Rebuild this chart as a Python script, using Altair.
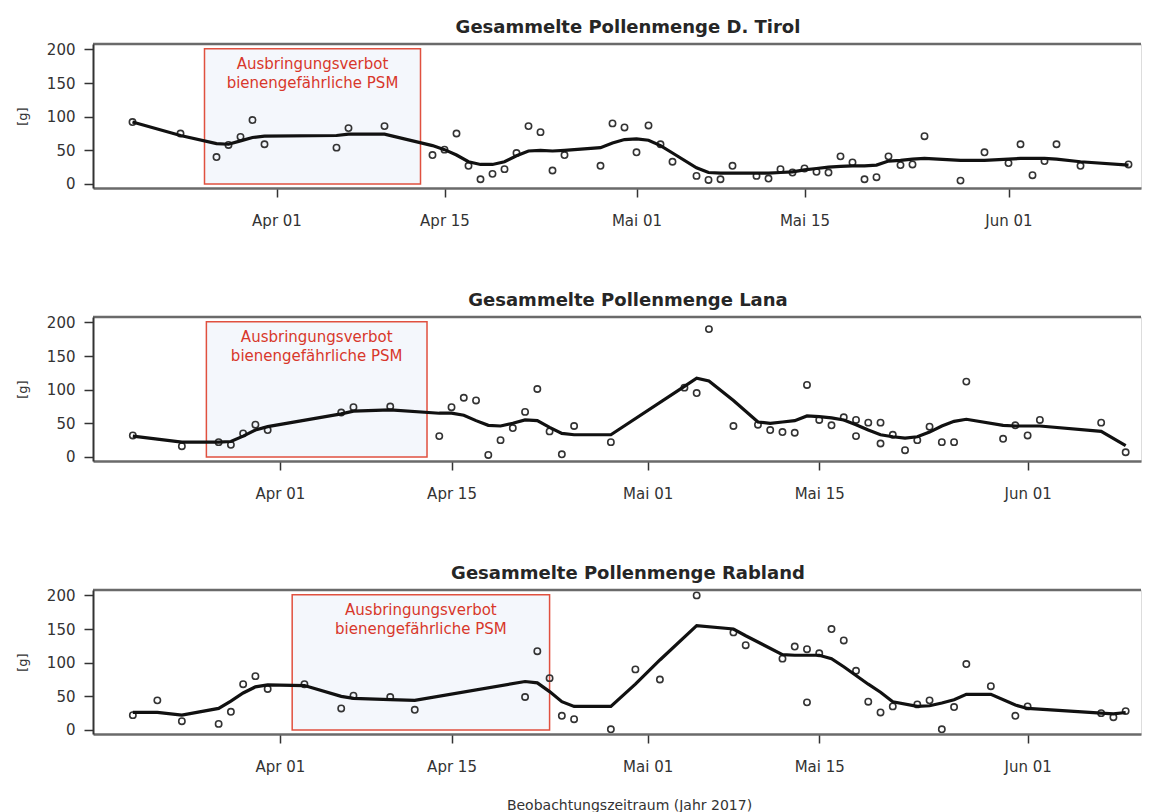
import altair as alt
import pandas as pd

YEAR = 2017

# ---------- Panel 1: D. Tirol ----------
tirol_pt_dates = ["03-20","03-24","03-27","03-28","03-29","03-30","03-31","04-06","04-07","04-10",
                  "04-14","04-15","04-16","04-17","04-18","04-19","04-20","04-21","04-22","04-23",
                  "04-24","04-25","04-28","04-29","04-30","05-01","05-02","05-03","05-04","05-06",
                  "05-07","05-08","05-09","05-11","05-12","05-13","05-14","05-15","05-16","05-17",
                  "05-18","05-19","05-20","05-21","05-22","05-23","05-24","05-25","05-28","05-30",
                  "06-01","06-02","06-03","06-04","06-05","06-07","06-11"]
tirol_pt_vals = [92,75,40,58,70,95,59,54,83,86,
                 43,51,75,27,7,15,22,46,86,77,
                 20,43,27,90,84,47,87,59,33,12,
                 6,7,27,12,8,22,17,23,18,17,
                 41,32,7,10,41,28,29,71,5,47,
                 31,59,13,34,59,27,29]
tirol_ln_dates = ["03-20","03-24","03-27","03-28","03-29","03-30","03-31","04-06","04-07","04-10",
                  "04-14","04-15","04-16","04-17","04-18","04-19","04-20","04-21","04-22","04-23",
                  "04-24","04-25","04-28","04-29","04-30","05-01","05-02","05-03","05-04","05-06",
                  "05-07","05-08","05-09","05-11","05-12","05-13","05-14","05-15","05-16","05-17",
                  "05-18","05-19","05-20","05-21","05-22","05-23","05-24","05-25","05-28","05-30",
                  "06-01","06-02","06-03","06-04","06-05","06-07","06-11"]
tirol_ln_vals = [92,72,60,59,64,69,71,72,74,74,
                 57,51,43,33,29,29,33,42,49,50,
                 49,50,54,61,66,67,65,57,46,24,
                 17,16,16,16,16,17,18,21,23,25,
                 26,27,27,28,34,35,37,38,35,35,
                 37,38,38,38,37,33,28]

# ---------- Panel 2: Lana ----------
lana_pt_dates = ["03-20","03-24","03-27","03-28","03-29","03-30","03-31","04-06","04-07","04-10",
                 "04-14","04-15","04-16","04-17","04-18","04-19","04-20","04-21","04-22","04-23",
                 "04-24","04-25","04-28","05-04","05-05","05-06","05-08","05-10","05-11","05-12",
                 "05-13","05-14","05-15","05-16","05-17","05-18","05-18","05-19","05-20","05-20",
                 "05-21","05-22","05-23","05-24","05-25","05-26","05-27","05-30","05-31","06-01",
                 "06-02","06-07","06-09"]
lana_pt_vals = [32,16,22,18,35,48,40,66,74,75,
                31,74,88,84,3,25,43,67,101,38,
                4,46,22,103,95,190,46,48,40,37,
                36,107,55,47,59,55,31,51,51,20,
                33,10,25,45,22,22,112,27,47,32,
                55,51,7]
lana_ln_dates = ["03-20","03-24","03-27","03-28","03-29","03-30","03-31","04-06","04-07","04-10",
                 "04-14","04-15","04-16","04-17","04-18","04-19","04-20","04-21","04-22","04-23",
                 "04-24","04-25","04-28","05-04","05-05","05-06","05-08","05-10","05-11","05-12",
                 "05-13","05-14","05-15","05-16","05-17","05-18","05-19","05-20","05-21","05-22",
                 "05-23","05-24","05-25","05-26","05-27","05-30","05-31","06-01","06-02","06-07",
                 "06-09"]
lana_ln_vals = [31,22,22,23,31,40,45,64,68,70,
                65,65,62,54,47,46,50,55,54,44,
                35,33,33,105,117,113,84,52,50,52,
                54,61,60,58,55,48,40,33,30,28,
                30,37,46,53,56,47,46,46,46,38,
                17]

# ---------- Panel 3: Rabland ----------
rab_pt_dates = ["03-20","03-22","03-24","03-27","03-28","03-29","03-30","03-31","04-03","04-06",
                "04-07","04-10","04-12","04-21","04-22","04-23","04-24","04-25","04-28","04-30",
                "05-02","05-05","05-08","05-09","05-12","05-13","05-14","05-14","05-15","05-16",
                "05-17","05-18","05-19","05-20","05-21","05-23","05-24","05-25","05-26","05-27",
                "05-29","05-31","06-01","06-07","06-08","06-09"]
rab_pt_vals = [22,44,13,9,27,68,80,61,68,32,
               51,49,30,49,117,77,21,16,1,90,
               75,200,145,126,106,124,120,41,114,150,
               133,88,42,26,35,38,44,1,34,98,
               65,21,35,25,19,28]
rab_ln_dates = ["03-20","03-22","03-24","03-27","03-28","03-29","03-30","03-31","04-03","04-06",
                "04-07","04-10","04-12","04-21","04-22","04-23","04-24","04-25","04-28","04-30",
                "05-02","05-05","05-08","05-09","05-12","05-13","05-14","05-15","05-16","05-17",
                "05-18","05-19","05-20","05-21","05-23","05-24","05-25","05-26","05-27","05-29",
                "05-31","06-01","06-07","06-08","06-09"]
rab_ln_vals = [26,26,22,32,43,55,64,67,66,50,
               47,45,44,72,70,57,42,35,35,68,
               104,155,150,140,112,111,111,111,106,94,
               81,68,56,42,35,36,40,45,53,53,
               37,32,25,24,26]

tick_dates = ["04-01","04-15","05-01","05-15","06-01"]
y_ticks = [0, 50, 100, 150, 200]
box_label = ["Ausbringungsverbot", "bienengefährliche PSM"]

W = 1048
H = 144
RED = "#d8372b"
FONT = "DejaVu Sans"


def to_dt(md):
    m, d = map(int, md.split("-"))
    return pd.Timestamp(year=YEAR, month=m, day=d)


def dtobj(md, h=0):
    m, d = map(int, md.split("-"))
    return alt.DateTime(year=YEAR, month=m, date=d, hours=h)


def panel(title, ptd, ptv, lnd, lnv, box, dom, last):
    pts = pd.DataFrame({"date": [to_dt(s) for s in ptd], "value": ptv})
    ln = pd.DataFrame({"date": [to_dt(s) for s in lnd], "value": lnv})
    b0, b1 = to_dt(box[0]), to_dt(box[1])
    boxdf = pd.DataFrame({"start": [b0], "end": [b1], "lo": [0], "hi": [201]})
    mid = b0 + (b1 - b0) / 2
    txt = pd.DataFrame({"date": [mid, mid], "value": [179, 150], "label": box_label})
    one = pd.DataFrame({"k": [0]})

    xscale = alt.Scale(domain=[dtobj(dom[0][0], dom[0][1]), dtobj(dom[1][0], dom[1][1])])
    yscale = alt.Scale(domain=[-6, 208], nice=False, zero=False)

    axkw = dict(values=[dtobj(s) for s in tick_dates], format="%b %d",
                labelExpr="replace(datum.label, 'May', 'Mai')",
                tickSize=9, tickWidth=1.5, tickColor="#333", labelPadding=16,
                labelFontSize=15, labelFont=FONT, labelColor="#333",
                domainColor="#6a6a6a", domainWidth=2.5, grid=False, zindex=1)
    if last:
        xaxis = alt.Axis(title="Beobachtungszeitraum (Jahr 2017)", titleFontSize=14, titleFont=FONT,
                         titleFontWeight="normal", titleColor="#333", titlePadding=24,
                         titleX=536, **axkw)
    else:
        xaxis = alt.Axis(title=None, **axkw)
    yaxis = alt.Axis(values=y_ticks, title="[g]", titleX=-64, titleFontSize=13, titleFont=FONT,
                     titleFontWeight="normal", titleColor="#333", labelFontSize=15, labelFont=FONT,
                     labelColor="#333", tickSize=9, tickWidth=1.5, tickColor="#333", labelPadding=9,
                     domainColor="#333", domainWidth=2, grid=False, zindex=1)

    X = alt.X("date:T", scale=xscale, axis=xaxis)
    Y = alt.Y("value:Q", scale=yscale, axis=yaxis)

    rect = alt.Chart(boxdf).mark_rect(fill="#f4f7fc", stroke="#e0503f", strokeWidth=1.5).encode(
        x=alt.X("start:T", scale=xscale, axis=xaxis), x2="end:T",
        y=alt.Y("lo:Q", scale=yscale, axis=yaxis), y2="hi:Q")
    text = alt.Chart(txt).mark_text(color=RED, fontSize=15, font=FONT).encode(
        x=X, y=Y, text="label:N")
    points = alt.Chart(pts).mark_point(shape="circle", filled=False, size=40, strokeWidth=1.6,
                                       color="#333", opacity=1).encode(x=X, y=Y)
    line = alt.Chart(ln).mark_line(color="#111", strokeWidth=3.2).encode(x=X, y=Y)
    top = alt.Chart(one).mark_rule(color="#6a6a6a", strokeWidth=2.5).encode(
        x=alt.value(0), x2=alt.value(W), y=alt.value(0))

    return alt.layer(rect, text, points, line, top).properties(
        width=W, height=H,
        title=alt.TitleParams(title, fontSize=18, font=FONT, fontWeight="bold", color="#262626",
                              dx=11, offset=5, anchor="middle"))


p1 = panel("Gesammelte Pollenmenge D. Tirol", tirol_pt_dates, tirol_pt_vals, tirol_ln_dates,
           tirol_ln_vals, ("03-26", "04-13"), (("03-16", 17), ("06-12", 1)), False)
p2 = panel("Gesammelte Pollenmenge Lana", lana_pt_dates, lana_pt_vals, lana_ln_dates,
           lana_ln_vals, ("03-26", "04-13"), (("03-16", 18), ("06-10", 6)), False)
p3 = panel("Gesammelte Pollenmenge Rabland", rab_pt_dates, rab_pt_vals, rab_ln_dates,
           rab_ln_vals, ("04-02", "04-23"), (("03-16", 18), ("06-10", 6)), True)

chart = alt.vconcat(p1, p2, p3, spacing=62).properties(
    padding={"left": 7, "top": 10, "right": 0, "bottom": 0}
).configure_view(stroke=None).configure(background="white")

chart.save("out.html", embed_options={"renderer": "svg", "actions": False})
